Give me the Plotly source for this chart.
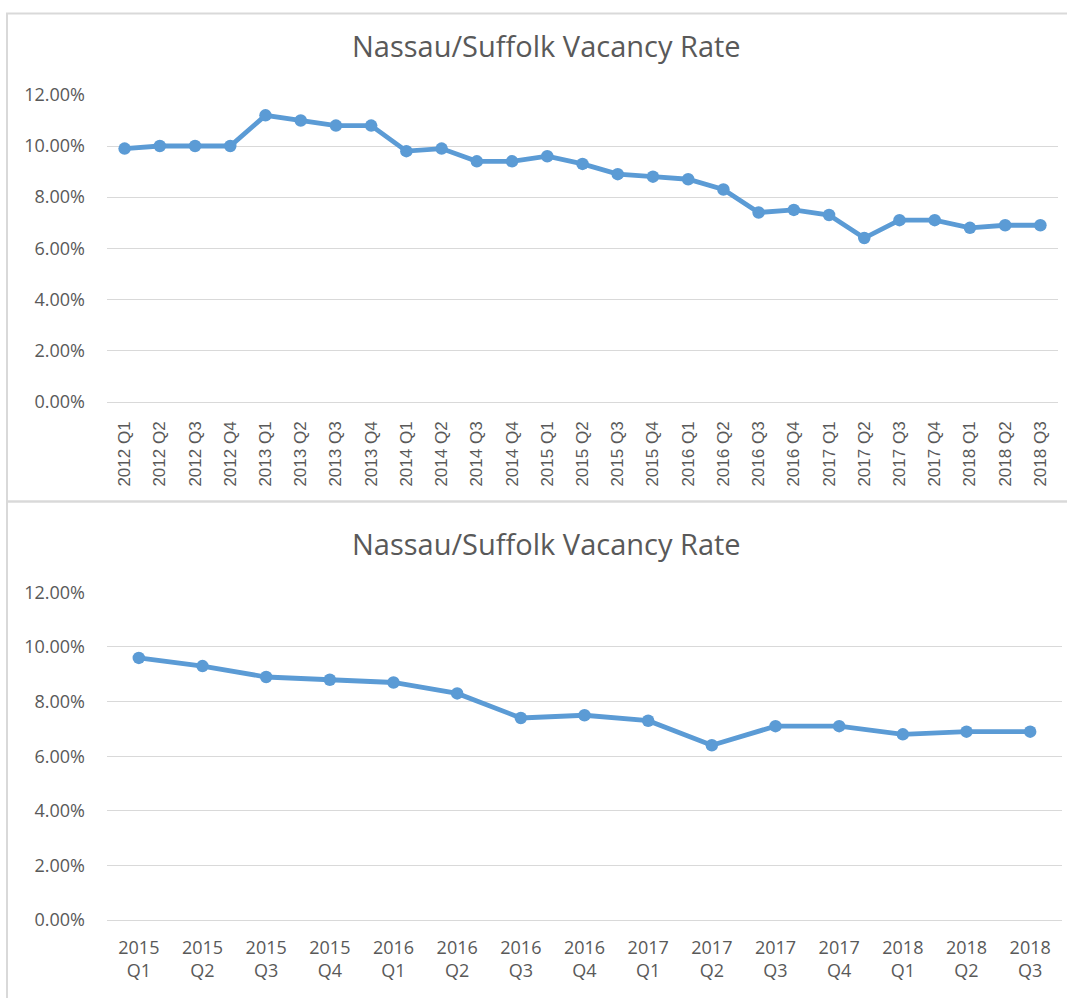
import plotly.graph_objects as go

# ---- data ----
quarters_all = ["2012 Q1", "2012 Q2", "2012 Q3", "2012 Q4",
                "2013 Q1", "2013 Q2", "2013 Q3", "2013 Q4",
                "2014 Q1", "2014 Q2", "2014 Q3", "2014 Q4",
                "2015 Q1", "2015 Q2", "2015 Q3", "2015 Q4",
                "2016 Q1", "2016 Q2", "2016 Q3", "2016 Q4",
                "2017 Q1", "2017 Q2", "2017 Q3", "2017 Q4",
                "2018 Q1", "2018 Q2", "2018 Q3"]
vacancy_all = [0.099, 0.100, 0.100, 0.100,
               0.112, 0.110, 0.108, 0.108,
               0.098, 0.099, 0.094, 0.094,
               0.096, 0.093, 0.089, 0.088,
               0.087, 0.083, 0.074, 0.075,
               0.073, 0.064, 0.071, 0.071,
               0.068, 0.069, 0.069]

quarters_recent = ["2015 Q1", "2015 Q2", "2015 Q3", "2015 Q4",
                   "2016 Q1", "2016 Q2", "2016 Q3", "2016 Q4",
                   "2017 Q1", "2017 Q2", "2017 Q3", "2017 Q4",
                   "2018 Q1", "2018 Q2", "2018 Q3"]
vacancy_recent = [0.096, 0.093, 0.089, 0.088,
                  0.087, 0.083, 0.074, 0.075,
                  0.073, 0.064, 0.071, 0.071,
                  0.068, 0.069, 0.069]
recent_labels = [q.replace(" ", "<br>") for q in quarters_recent]

y_ticks = [0, 0.02, 0.04, 0.06, 0.08, 0.10, 0.12]
chart_title = "Nassau/Suffolk Vacancy Rate"

# ---- layout constants ----
W, H = 1067, 998
LINE = "#5B9BD5"
GRID = "#D9D9D9"
TXT = "#595959"


def px_x(p):
    return p / W


def px_y(p):
    # vertical pixel position (from top) -> paper fraction,
    # with a small correction for how the page is captured
    q = (p - 12) / 0.977
    q = max(q, 0.5)
    return 1 - q / H


fig = go.Figure()

fig.add_trace(go.Scatter(
    x=quarters_all, y=vacancy_all, mode="lines+markers",
    line=dict(color=LINE, width=4.8), marker=dict(color=LINE, size=12.5),
    xaxis="x", yaxis="y", showlegend=False, hoverinfo="x+y"))

fig.add_trace(go.Scatter(
    x=recent_labels, y=vacancy_recent, mode="lines+markers",
    line=dict(color=LINE, width=4.8), marker=dict(color=LINE, size=12.5),
    xaxis="x2", yaxis="y2", showlegend=False, hoverinfo="x+y"))

yaxis_common = dict(range=[0, 0.12], tickvals=y_ticks, tickformat=".2%",
                    showgrid=True, gridcolor=GRID, gridwidth=1,
                    zeroline=False, showline=False,
                    tickfont=dict(family="Open Sans", size=18, color=TXT),
                    ticklabelstandoff=21, fixedrange=True)

fig.update_layout(
    width=W, height=H,
    margin=dict(l=0, r=0, t=0, b=0),
    paper_bgcolor="white", plot_bgcolor="white",
    xaxis=dict(domain=[px_x(107), px_x(1058)], anchor="y",
               type="category", range=[-0.5, len(quarters_all) - 0.5],
               showgrid=False, zeroline=False,
               showline=True, linecolor=GRID, linewidth=1,
               tickangle=-90, ticks="",
               tickfont=dict(family="Liberation Sans", size=17, color=TXT),
               ticklabelstandoff=12),
    yaxis=dict(domain=[px_y(401), px_y(94)], anchor="x", **yaxis_common),
    xaxis2=dict(domain=[px_x(107), px_x(1062)], anchor="y2",
                type="category", range=[-0.5, len(quarters_recent) - 0.5],
                showgrid=False, zeroline=False,
                showline=True, linecolor=GRID, linewidth=1,
                tickangle=0, ticks="",
                tickfont=dict(family="Open Sans", size=18, color=TXT),
                ticklabelstandoff=11),
    yaxis2=dict(domain=[px_y(920), px_y(592)], anchor="x2", **yaxis_common),
    shapes=[
        dict(type="rect", xref="paper", yref="paper",
             x0=px_x(7), x1=px_x(1075), y0=px_y(501), y1=px_y(5),
             line=dict(color=GRID, width=2), fillcolor="rgba(0,0,0,0)",
             layer="below"),
        dict(type="rect", xref="paper", yref="paper",
             x0=px_x(7), x1=px_x(1075), y0=-0.05, y1=px_y(501),
             line=dict(color=GRID, width=2), fillcolor="rgba(0,0,0,0)",
             layer="below"),
    ],
    annotations=[
        dict(text=chart_title, xref="paper", yref="paper",
             x=px_x(546), y=px_y(45), xanchor="center", yanchor="middle",
             showarrow=False, font=dict(family="Open Sans", size=29, color=TXT)),
        dict(text=chart_title, xref="paper", yref="paper",
             x=px_x(546), y=px_y(543), xanchor="center", yanchor="middle",
             showarrow=False, font=dict(family="Open Sans", size=29, color=TXT)),
    ],
)

post = ("document.body.style.margin='0';"
        "document.body.style.overflow='hidden';"
        "var d=document.getElementById('{plot_id}');"
        "d.style.position='fixed';d.style.top='0px';d.style.left='0px';")

fig.write_html("out.html", config={"displayModeBar": False}, post_script=post)
